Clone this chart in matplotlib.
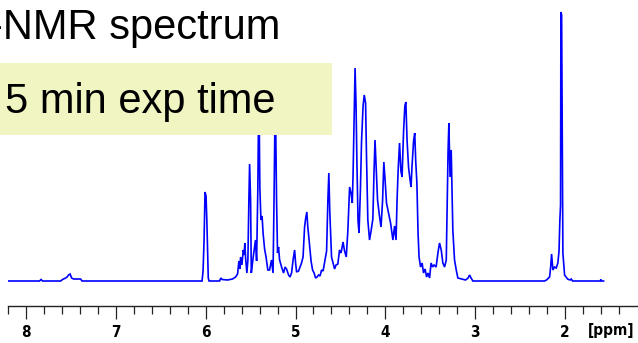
import numpy as np
import matplotlib
matplotlib.use("Agg")
from matplotlib import pyplot as plt
from matplotlib import font_manager
from matplotlib.patches import Rectangle

# spectrum trace: chemical shift [ppm] and intensity (arb. units)
shift = [
    8.205, 7.849, 7.832, 7.815, 7.615, 7.593, 7.559, 7.543, 7.526, 7.509, 7.492, 7.470, 7.392, 7.376,
    6.040, 6.029, 6.018, 6.007, 5.996, 5.987, 5.979, 5.971, 5.962, 5.845, 5.831, 5.817, 5.756, 5.701,
    5.667, 5.645, 5.630, 5.620, 5.611, 5.597, 5.581, 5.572, 5.564, 5.554, 5.541, 5.530, 5.519, 5.511,
    5.500, 5.492, 5.475, 5.456, 5.445, 5.433, 5.419, 5.408, 5.397, 5.385, 5.372, 5.361, 5.344, 5.328,
    5.308, 5.289, 5.267, 5.250, 5.239, 5.225, 5.211, 5.200, 5.189, 5.177, 5.155, 5.133, 5.116, 5.100,
    5.077, 5.061, 5.044, 5.027, 5.010, 4.999, 4.988, 4.966, 4.949, 4.933, 4.916, 4.899, 4.888, 4.874,
    4.864, 4.852, 4.838, 4.827, 4.810, 4.793, 4.777, 4.760, 4.743, 4.727, 4.710, 4.693, 4.677, 4.654,
    4.640, 4.629, 4.619, 4.610, 4.599, 4.582, 4.565, 4.549, 4.529, 4.510, 4.493, 4.471, 4.454, 4.435,
    4.417, 4.398, 4.382, 4.368, 4.359, 4.348, 4.337, 4.326, 4.317, 4.304, 4.293, 4.278, 4.265, 4.248,
    4.235, 4.220, 4.209, 4.195, 4.176, 4.159, 4.139, 4.126, 4.115, 4.101, 4.087, 4.064, 4.048, 4.031,
    4.017, 4.003, 3.987, 3.964, 3.942, 3.916, 3.897, 3.881, 3.870, 3.858, 3.842, 3.827, 3.814, 3.797,
    3.783, 3.772, 3.758, 3.742, 3.725, 3.714, 3.703, 3.686, 3.673, 3.662, 3.649, 3.636, 3.625, 3.608,
    3.591, 3.575, 3.558, 3.541, 3.525, 3.508, 3.491, 3.474, 3.458, 3.435, 3.415, 3.397, 3.378, 3.360,
    3.341, 3.322, 3.311, 3.302, 3.293, 3.280, 3.267, 3.258, 3.249, 3.230, 3.211, 3.193, 3.107, 3.079,
    3.063, 3.046, 3.026, 2.228, 2.206, 2.172, 2.159, 2.150, 2.135, 2.117, 2.098, 2.080, 2.067, 2.058,
    2.050, 2.046, 2.038, 2.030, 2.024, 2.005, 1.972, 1.944, 1.931, 1.916, 1.610, 1.601, 1.594, 1.571,
]
intensity = [
    0, 0, 1.5, 0, 0, 1.5, 3, 4, 6, 7, 3, 2, 2, 0,
    0, 10, 40, 89, 85, 61, 30, 3, 0, 0, 3, 1.5, 1, 2,
    4, 7, 20, 12, 24, 16, 31, 26, 38, 21, 8, 21, 81, 117,
    81, 8, 21, 34, 41, 20, 94, 200, 94, 61, 65, 48, 32, 24,
    11, 11, 21, 8, 81, 190, 81, 28, 34, 21, 14, 8, 14, 12,
    6, 4, 8, 21, 31, 18, 9, 10, 14, 18, 24, 54, 62, 69,
    55, 44, 30, 20, 11, 8, 3, 4, 6, 5, 11, 10, 18, 30,
    80, 108, 71, 50, 24, 18, 12, 16, 17, 31, 28, 39, 30, 24,
    51, 94, 88, 78, 108, 160, 213, 175, 121, 60, 48, 90, 140, 175,
    186, 178, 121, 61, 41, 50, 62, 110, 141, 111, 81, 64, 54, 80,
    119, 101, 78, 68, 58, 41, 55, 41, 80, 110, 138, 110, 104, 150,
    175, 179, 140, 114, 101, 94, 115, 140, 148, 120, 98, 48, 24, 14,
    18, 8, 12, 4, 8, 3, 18, 14, 16, 14, 28, 38, 31, 18,
    14, 21, 78, 130, 158, 104, 131, 90, 51, 21, 11, 3, 1, 3,
    6, 3, 0, 0, 1, 4, 15, 27, 11, 14, 13, 18, 30, 60,
    76, 269, 266, 120, 28, 6, 2, 1, 2, 0, 0, 1.5, 0, 0,
]

major_ticks = [8, 7, 6, 5, 4, 3, 2]
minor_ticks = [8.2, 7.8, 7.6, 7.4, 7.2, 6.8, 6.6, 6.4, 6.2, 5.8, 5.6, 5.4, 5.2,
               4.8, 4.6, 4.4, 4.2, 3.8, 3.6, 3.4, 3.2, 2.8, 2.6, 2.4, 2.2, 1.8, 1.6, 1.4]

# narrow bold face for the axis numbers, if one is installed
names = {f.name for f in font_manager.fontManager.ttflist}
if "Liberation Sans Narrow" in names:
    tick_font = dict(family="Liberation Sans Narrow", weight="bold", size=12)
else:
    tick_font = dict(family="DejaVu Sans", stretch="condensed", weight="bold", size=11)

W, H = 638, 343
fig = plt.figure(figsize=(W / 100, H / 100), dpi=100)
fig.patch.set_facecolor("white")

ax = fig.add_axes([8 / W, 37 / H, 630 / W, 306 / H])
ax.plot(shift, intensity, color="#0000ff", lw=1.2, solid_joinstyle="miter")
ax.set_xlim(8.2, 1.188)
ax.set_ylim(-25, 281)

for side in ("top", "left", "right"):
    ax.spines[side].set_visible(False)
ax.spines["bottom"].set_linewidth(1.0)
ax.spines["bottom"].set_color("#222222")
ax.set_yticks([])

ax.set_xticks(major_ticks)
ax.set_xticklabels([str(t) for t in major_ticks], fontdict=tick_font)
ax.set_xticks(minor_ticks, minor=True)
ax.tick_params(axis="x", which="major", length=9.5, width=0.9, color="#222222", pad=4)
ax.tick_params(axis="x", which="minor", length=6, width=0.9, color="#222222")
fig.text(634 / W, (H - 331) / H, "[ppm]", ha="right", va="center", **tick_font)

# pale yellow box covering the top of the spectrum
box = Rectangle((0, (H - 135) / H), 332 / W, 72 / H, transform=fig.transFigure,
                facecolor="#f0f5c2", edgecolor="none", zorder=5)
fig.patches.append(box)

title_font = dict(family=["Liberation Sans", "DejaVu Sans"], size=30)
fig.text(-11 / W, (H - 39) / H, "-NMR spectrum", ha="left", va="baseline", zorder=6, **title_font)
fig.text(5 / W, (H - 113) / H, "5 min exp time", ha="left", va="baseline", zorder=6, **title_font)

fig.savefig("out.png", dpi=100)
